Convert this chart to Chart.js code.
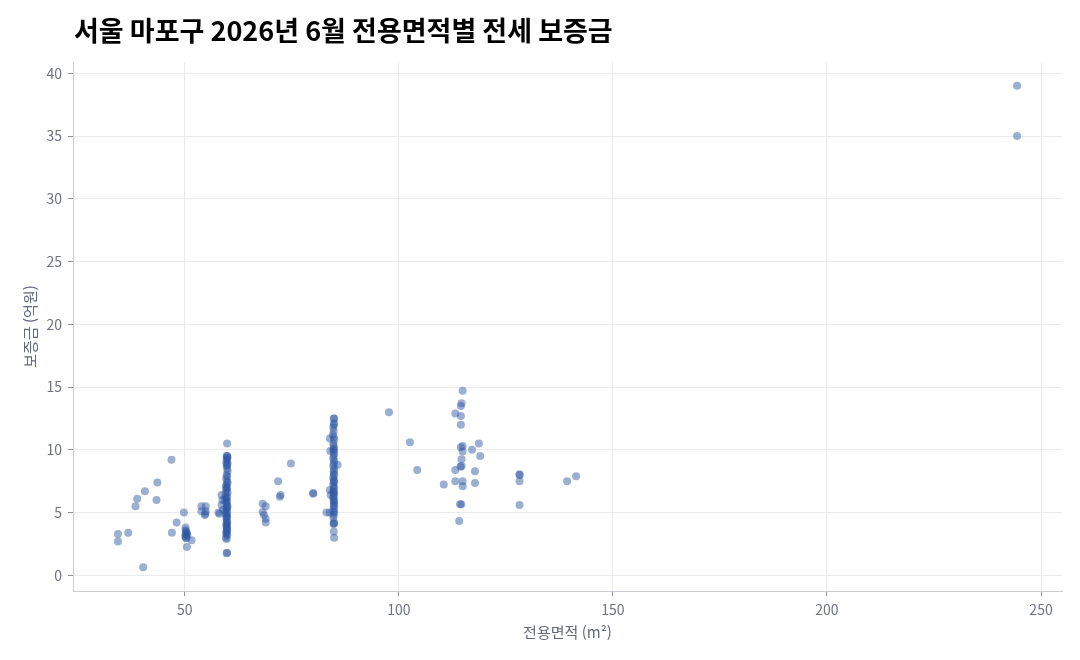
<!DOCTYPE html>
<html lang="ko">
<head>
<meta charset="utf-8">
<script src="https://cdn.jsdelivr.net/npm/chart.js@4.4.1/dist/chart.umd.min.js"></script>
<style>
  html, body { margin: 0; padding: 0; background: #ffffff; }
  #wrap { position: relative; width: 1080px; height: 660px; }
</style>
</head>
<body>
<div id="wrap"><canvas id="c"></canvas></div>
<script>
const chartTitle = '서울 마포구 2026년 6월 전용면적별 전세 보증금';
const xAxisTitle = '전용면적 (m²)';
const yAxisTitle = '보증금 (억원)';
const xTicks = [50, 100, 150, 200, 250];
const yTicks = [0, 5, 10, 15, 20, 25, 30, 35, 40];

// 전용면적 (m²)
const area = [
  34.4, 34.4, 36.8, 38.5, 38.9, 40.3, 40.7, 43.4, 43.6, 46.9, 47.0, 48.1, 49.8,
  50.2, 50.3, 50.2, 50.1, 50.3, 50.4, 50.5, 50.6, 51.6, 50.5, 50.2, 50.4,
  53.9, 54.9, 53.9, 54.9, 54.7, 54.8,
  57.9, 58.1, 58.6, 58.6, 58.8, 58.9,
  59.9, 59.8, 59.9, 60.0, 59.8, 59.9, 59.7, 60.0, 59.9, 59.8, 59.9, 60.0, 59.8, 59.9, 59.7,
  59.9, 60.0, 59.8, 59.6, 59.9, 59.7, 59.8, 60.0, 59.5, 59.9, 59.6, 59.8, 59.4, 59.9, 59.7,
  59.8, 60.0, 59.9, 59.7, 59.8, 59.9, 59.6, 59.8, 59.9, 59.7, 59.8, 59.9, 59.8, 59.9, 59.7,
  59.8, 59.9, 59.8, 59.9, 59.8, 59.7, 59.8, 59.9, 59.6, 59.8,
  68.2, 68.9, 68.2, 68.5, 68.9, 68.9, 71.8, 72.2, 72.4, 74.8, 80.0, 80.0,
  83.1, 83.9, 84.1, 83.9, 83.9, 84.0, 85.7,
  84.8, 84.9, 84.8, 84.9, 84.7, 84.8, 84.6, 84.8, 84.9, 84.7, 84.8, 84.9, 84.7, 84.8,
  84.9, 84.8, 84.7, 84.9, 84.8, 84.7, 84.9, 84.8, 84.8, 84.9, 84.7, 84.8, 84.9, 84.8,
  84.7, 84.9, 84.8, 84.7, 84.8, 84.9, 84.8, 84.7, 84.8, 84.9, 84.8, 84.8, 84.9, 84.8,
  84.8, 84.9, 84.8, 84.7, 84.9, 84.8, 84.8, 84.8, 84.9,
  97.7, 102.6, 104.3, 110.5, 113.2, 113.2, 113.2, 114.9, 114.65, 114.5, 114.5, 114.5,
  114.9, 114.5, 114.9, 114.65, 114.65, 114.4, 117.1, 118.7, 119.0, 117.8, 114.9, 114.9,
  117.8, 114.3, 114.6, 114.1, 128.2, 128.2, 128.2, 128.2, 139.3, 141.4,
  244.4, 244.4
];

// 보증금 (억원)
const deposit = [
  3.3, 2.7, 3.4, 5.5, 6.1, 0.65, 6.7, 6.0, 7.4, 9.2, 3.4, 4.2, 5.0,
  3.8, 3.5, 3.3, 3.1, 3.0, 2.95, 3.4, 3.2, 2.8, 2.25, 3.6, 3.3,
  5.5, 5.5, 5.1, 5.1, 4.8, 4.9,
  5.0, 4.9, 6.4, 5.6, 6.0, 5.2,
  10.5, 9.5, 9.5, 9.4, 9.3, 9.2, 9.0, 8.9, 8.8, 8.7, 8.5, 8.3, 8.0, 7.9, 7.7,
  7.5, 7.4, 7.2, 7.1, 7.0, 6.9, 6.8, 6.6, 6.5, 6.3, 6.2, 6.1, 6.0, 5.9, 5.8,
  5.6, 5.5, 5.4, 5.3, 5.2, 5.0, 4.9, 4.8, 4.7, 4.6, 4.5, 4.3, 4.2, 4.1, 4.0,
  3.9, 3.8, 3.7, 3.6, 3.5, 3.4, 3.3, 3.2, 3.0, 2.9,
  5.7, 5.5, 5.05, 4.8, 4.5, 4.2, 7.5, 6.25, 6.4, 8.9, 6.5, 6.55,
  5.0, 5.0, 6.4, 6.8, 10.9, 9.9, 8.8,
  12.5, 12.5, 12.0, 12.1, 11.8, 11.5, 11.2, 11.0, 10.8, 10.5, 10.3, 10.1, 10.0, 9.9,
  9.7, 9.5, 9.3, 9.1, 8.9, 8.7, 8.5, 8.3, 8.1, 8.0, 7.8, 7.6, 7.5, 7.4,
  7.2, 7.0, 6.9, 6.7, 6.6, 6.5, 6.3, 6.2, 6.0, 5.9, 5.8, 5.6, 5.5, 5.3,
  5.1, 5.0, 4.8, 4.6, 4.2, 4.1, 4.1, 3.5, 3.0,
  13.0, 10.6, 8.4, 7.24, 8.4, 7.5, 12.9, 14.7, 13.7, 13.5, 12.7, 12.0,
  10.3, 10.2, 9.86, 9.25, 8.7, 8.65, 10.0, 10.5, 9.5, 8.3, 7.5, 7.1,
  7.35, 5.67, 5.67, 4.33, 8.0, 8.05, 7.5, 5.6, 7.5, 7.9,
  39.0, 35.0
];
// 60㎡ 하단 두 건
const extraArea = [59.8, 59.9];
const extraDeposit = [1.75, 1.8];

const allArea = area.concat(extraArea);
const allDeposit = deposit.concat(extraDeposit);
const points = allArea.map((x, i) => ({ x: x, y: allDeposit[i] }));

const FONT = "'Noto Sans CJK KR', 'Noto Sans', sans-serif";
const tickColor = '#6f7381';

const titlePlugin = {
  id: 'leftTitle',
  afterDraw(chart) {
    const ctx = chart.ctx;
    ctx.save();
    ctx.font = "bold 27px " + FONT;
    ctx.fillStyle = '#000000';
    ctx.textAlign = 'left';
    ctx.textBaseline = 'middle';
    ctx.fillText(chartTitle, chart.chartArea.left + 1, 31);
    ctx.restore();
  }
};

new Chart(document.getElementById('c'), {
  type: 'scatter',
  data: {
    datasets: [{
      label: '전세 보증금',
      data: points,
      backgroundColor: 'rgba(45, 88, 162, 0.48)',
      borderWidth: 0,
      pointRadius: 4,
      pointHoverRadius: 4
    }]
  },
  options: {
    responsive: true,
    maintainAspectRatio: false,
    animation: false,
    layout: { padding: { top: 62, right: 18, bottom: 0, left: 0 } },
    plugins: {
      legend: { display: false },
      tooltip: { enabled: false },
      title: { display: false }
    },
    scales: {
      x: {
        type: 'linear',
        min: 23.9,
        max: 254.9,
        afterBuildTicks(scale) { scale.ticks = xTicks.map(v => ({ value: v })); },
        afterFit(scale) { scale.height = 69; },
        grid: { color: '#ebebee', lineWidth: 1, drawTicks: true, tickLength: 5, tickColor: '#8c909a' },
        border: { display: true, color: '#c9ccd4', width: 1 },
        ticks: { color: tickColor, font: { family: FONT, size: 14 }, padding: 5, maxRotation: 0 },
        title: { display: true, text: xAxisTitle, color: '#62677a', font: { family: FONT, size: 15 }, padding: { top: 0, bottom: 19 } }
      },
      y: {
        type: 'linear',
        min: -1.25,
        max: 40.9,
        afterBuildTicks(scale) { scale.ticks = yTicks.map(v => ({ value: v })); },
        afterFit(scale) { scale.width = 73; },
        grid: { color: '#ebebee', lineWidth: 1, drawTicks: true, tickLength: 5, tickColor: '#8c909a' },
        border: { display: true, color: '#c9ccd4', width: 1 },
        ticks: { color: tickColor, font: { family: FONT, size: 14 }, padding: 6 },
        title: { display: true, text: yAxisTitle, color: '#62677a', font: { family: FONT, size: 15 }, padding: { top: 21, bottom: 0 } }
      }
    }
  },
  plugins: [titlePlugin]
});
</script>
</body>
</html>
